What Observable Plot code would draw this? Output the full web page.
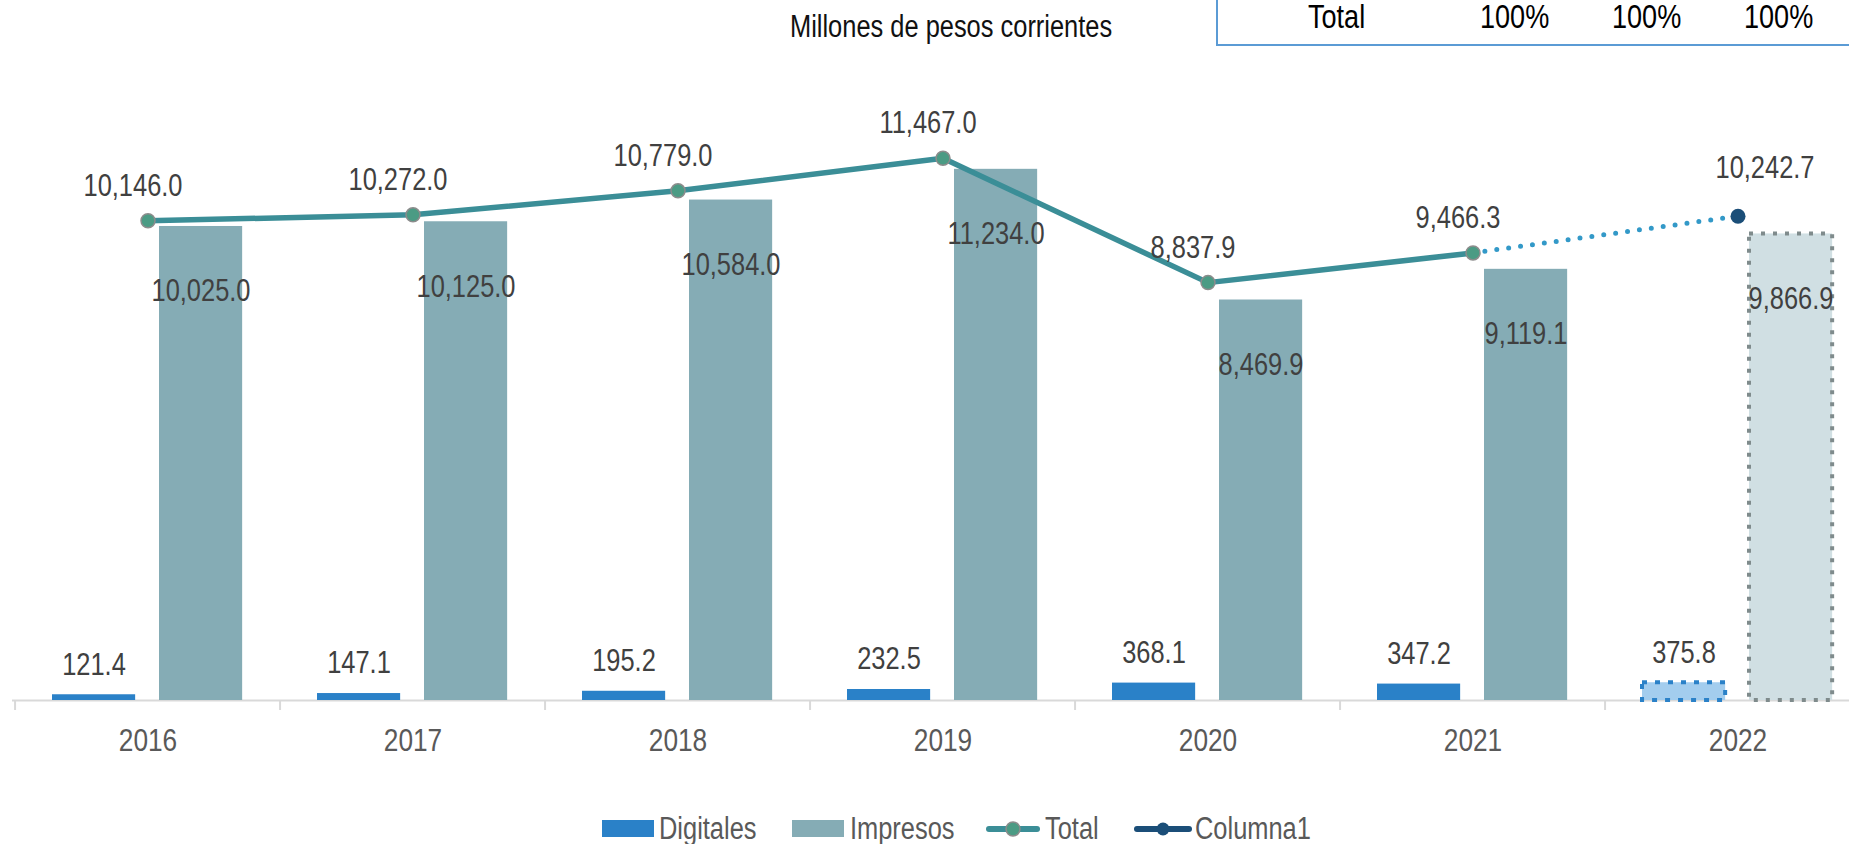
<!DOCTYPE html>
<html>
<head>
<meta charset="utf-8">
<script src="https://cdn.jsdelivr.net/npm/d3@7"></script>
<script src="https://cdn.jsdelivr.net/npm/@observablehq/plot@0.6"></script>
<style>
html, body { margin: 0; padding: 0; background: #fff; overflow: hidden; width: 1849px; height: 844px; }
body { position: relative; font-family: "Liberation Sans Narrow", "Arial Narrow", "Liberation Sans", sans-serif; }
#chart { position: absolute; left: 0; top: 0; width: 1873px; }
#chart svg { max-width: none !important; }
.narrow { display: inline-block; transform: scaleX(0.82); transform-origin: 0 50%; white-space: nowrap; }
#title { position: absolute; left: 790px; top: 11px; font-size: 31px; line-height: 31px; color: #111; }
#table { position: absolute; left: 1216px; top: -4px; width: 640px; height: 48px; border-left: 2px solid #5B9BD5; border-bottom: 2px solid #5B9BD5; }
.cell { position: absolute; top: 4px; font-size: 33px; line-height: 33px; color: #000; }
#legend { position: absolute; left: 0; top: 813px; height: 31px; width: 1849px; font-size: 31px; line-height: 31px; color: #595959; }
#legend > * { position: absolute; }
.sw { top: 7px; width: 52px; height: 17px; }
</style>
</head>
<body>
<div id="chart"></div>
<div id="title" class="narrow"></div>
<div id="table"></div>
<div id="legend"></div>
<script>
// ---- data ----
const years = ["2016", "2017", "2018", "2019", "2020", "2021", "2022"];
const digitales = [121.4, 147.1, 195.2, 232.5, 368.1, 347.2, 375.8];
const impresos = [10025.0, 10125.0, 10584.0, 11234.0, 8469.9, 9119.1, 9866.9];
const total = [10146.0, 10272.0, 10779.0, 11467.0, 8837.9, 9466.3, null];
const columna1 = [null, null, null, null, null, 9466.3, 10242.7];
const estimateYear = "2022";
const titleText = "Millones de pesos corrientes";
const tableLabel = "Total";
const tableValues = ["100%", "100%", "100%"];
const seriesNames = ["Digitales", "Impresos", "Total", "Columna1"];

// ---- derived table ----
const rows = years.map((year, i) => ({
  year, digitales: digitales[i], impresos: impresos[i], total: total[i], columna1: columna1[i]
}));
const actual = rows.filter(d => d.year !== estimateYear);
const est = rows.filter(d => d.year === estimateYear);
const totalRows = rows.filter(d => d.total != null);
const colRows = rows.filter(d => d.columna1 != null);
const fmt = d3.format(",.1f");

const C = {
  dig: "#2A81C8", imp: "#85ACB5", line: "#3B8E97", dot: "#4B9B84", dotStroke: "#8C8C8C",
  col: "#3399C8", colDot: "#1B4E78", digEst: "#A3CDEE", impEst: "#D0DFE3", impEstStroke: "#7F8B8C",
  label: "#404040", axis: "#595959", base: "#D9D9D9"
};

const W = 1873, step = (W - 12) / years.length;
const lbl = {fontSize: 31, fill: C.label};

const chart = Plot.plot({
  width: W, height: 844,
  marginLeft: 12, marginRight: 0, marginTop: 132.6, marginBottom: 144,
  style: {fontFamily: '"Liberation Sans", sans-serif', background: "transparent", overflow: "visible", maxWidth: "none"},
  x: {type: "band", domain: years, padding: 0},
  y: {domain: [0, 12000], axis: null},
  marks: [
    Plot.ruleY([0], {stroke: C.base, strokeWidth: 2}),
    Plot.axisX({tickSize: 10, tickFormat: () => "", label: null, dx: -step / 2, stroke: C.base, strokeWidth: 2}),
    Plot.axisX({tickSize: 0, tickPadding: 28, label: null, fontSize: 32, fill: C.axis}),
    Plot.barY(actual, {x: "year", y: "digitales", fill: C.dig, insetLeft: 37, insetRight: step - 121}),
    Plot.barY(actual, {x: "year", y: "impresos", fill: C.imp, insetLeft: 144, insetRight: step - 228}),
    Plot.barY(est, {x: "year", y: "digitales", fill: C.digEst, stroke: C.dig, strokeWidth: 4, strokeDasharray: "5,8", insetLeft: 37, insetRight: step - 121}),
    Plot.barY(est, {x: "year", y: "impresos", fill: C.impEst, stroke: C.impEstStroke, strokeWidth: 4, strokeDasharray: "4,8", insetLeft: 144, insetRight: step - 228}),
    Plot.line(colRows, {x: "year", y: "columna1", stroke: C.col, strokeWidth: 5, strokeDasharray: "0,12", strokeLinecap: "round"}),
    Plot.line(totalRows, {x: "year", y: "total", stroke: C.line, strokeWidth: 5.5}),
    Plot.dot(totalRows, {x: "year", y: "total", r: 7, fill: C.dot, stroke: C.dotStroke, strokeWidth: 1.5}),
    Plot.dot(est, {x: "year", y: "columna1", r: 7.5, fill: C.colDot}),
    Plot.text(rows, {x: "year", y: "digitales", text: d => fmt(d.digitales), dx: -54, dy: -30, ...lbl}),
    Plot.text(rows, {x: "year", y: "impresos", text: d => fmt(d.impresos), dx: 53, dy: 65, ...lbl}),
    Plot.text(totalRows, {x: "year", y: "total", text: d => fmt(d.total), dx: -15, dy: -35, ...lbl}),
    Plot.text(est, {x: "year", y: "columna1", text: d => fmt(d.columna1), dx: 27, dy: -48, ...lbl})
  ]
});
chart.style.maxWidth = "none";
document.getElementById("chart").appendChild(chart);

// condense SVG texts to an Arial-Narrow-like width
chart.querySelectorAll("text").forEach(t => {
  const len = t.getComputedTextLength();
  if (len > 0) {
    t.setAttribute("textLength", (len * 0.82).toFixed(2));
    t.setAttribute("lengthAdjust", "spacingAndGlyphs");
  }
});

// ---- title & table ----
document.getElementById("title").textContent = titleText;
const table = document.getElementById("table");
const cellLeft = [90, 262, 394, 526];
[tableLabel, ...tableValues].forEach((t, i) => {
  const s = document.createElement("span");
  s.className = "cell narrow"; s.style.left = cellLeft[i] + "px"; s.textContent = t;
  table.appendChild(s);
});

// ---- legend ----
const legend = document.getElementById("legend");
function add(html, left, cls) {
  const el = document.createElement("span");
  if (cls) el.className = cls;
  el.style.left = left + "px";
  el.innerHTML = html;
  legend.appendChild(el);
  return el;
}
add("", 602, "sw").style.background = C.dig;
add(seriesNames[0], 659, "narrow");
add("", 792, "sw").style.background = C.imp;
add(seriesNames[1], 850, "narrow");
add(`<svg width="56" height="31" style="display:block"><line x1="4" x2="52" y1="16" y2="16" stroke="${C.line}" stroke-width="6" stroke-linecap="round"/><circle cx="28" cy="16" r="7" fill="${C.dot}" stroke="${C.dotStroke}" stroke-width="1.5"/></svg>`, 985);
add(seriesNames[2], 1045, "narrow");
add(`<svg width="60" height="31" style="display:block"><line x1="4" x2="56" y1="16" y2="16" stroke="${C.colDot}" stroke-width="6" stroke-linecap="round"/><circle cx="30" cy="16" r="6.5" fill="${C.colDot}"/></svg>`, 1133);
add(seriesNames[3], 1195, "narrow");
</script>
</body>
</html>
